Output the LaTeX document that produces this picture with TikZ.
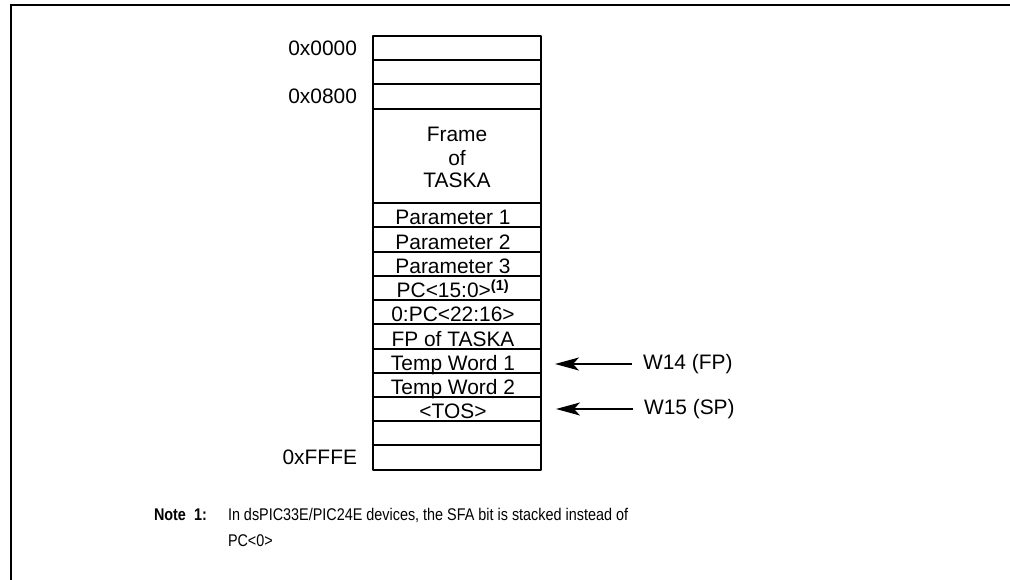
\documentclass[tikz,border=0pt]{standalone}
\usepackage{fontspec}
\setmainfont{Liberation Sans}
\newfontfamily\notefont[FakeStretch=0.85]{Liberation Sans}
\usepackage{tkz-euclide}
\usetikzlibrary{arrows.meta}

\begin{document}
\begin{tikzpicture}[x=1bp,y=-1bp,line width=2bp,
    every node/.style={inner sep=0pt,font=\fontsize{21}{25}\selectfont},
    cell/.style={anchor=base},
    addr/.style={anchor=east},
    ptr/.style={line width=1.4bp,-{Stealth[length=24bp,width=13bp,inset=6bp]}},
    note/.style={anchor=base west,font=\notefont\fontsize{17}{20}\selectfont}]
        \useasboundingbox (0,0) rectangle (1010,580);%

        \def\xl{373} \def\xr{541} \def\xm{453} \def\h{24.2}%

        % frame of the figure, runs off the page
        \draw (11,580) -- (11,5) -- (1010,5);%

        % the stack
        \tkzDefPoint(\xl,36){A} \tkzDefPoint(\xr,36){B}%
        \tkzDefPoint(\xr,469.5){C} \tkzDefPoint(\xl,469.5){D}%
        \tkzDrawPolygon[line width=2bp](A,B,C,D)%
        \foreach \y in {60.2, 84.4, 108.6, 203.3} { \draw (\xl,\y) -- (\xr,\y); }%
        \foreach \i in {1,...,10} { \draw (\xl,203.3+\i*\h) -- (\xr,203.3+\i*\h); }%

        \foreach \t/\yb [count=\k] in {Frame/142, of/166, TASKA/188} {%
          \node[cell] (fr\k) at (457,\yb) {\t}; }%
        \foreach \t [count=\i] in {Parameter 1, Parameter 2, Parameter 3,
            {PC<15:0>\textsuperscript{\bfseries(1)}}, 0:PC<22:16>, FP of TASKA,
            Temp Word 1, Temp Word 2, <TOS>} {%
          \node[cell] (row\i) at (\xm,203.3+\i*\h-2.5) {\t}; }%

        % addresses
        \foreach \t/\y [count=\k] in {0x0000/48, 0x0800/96.5, 0xFFFE/457.4} {%
          \node[addr] (adr\k) at (358,\y) {\t}; }%

        % pointers
        \node[anchor=west] (fp) at (642,364) {W14 (FP)};%
        \node[anchor=west] (sp) at (643,409) {W15 (SP)};%
        \coordinate (fptip) at (555,364); \coordinate (sptip) at (556,409);%
        \draw[ptr] ([xshift=-10bp]fp.west) -- (fptip);%
        \draw[ptr] ([xshift=-10bp]sp.west) -- (sptip);%

        % note
        \node[note,font=\notefont\bfseries\fontsize{17}{20}\selectfont] (notehd) at (153,520) {Note};%
        \node[note,font=\notefont\bfseries\fontsize{17}{20}\selectfont] (noteno) at (193,520) {1:};%
        \node[note] (note1) at (227,520) {In dsPIC33E/PIC24E devices, the SFA bit is stacked instead of};%
        \node[note] (note2) at (227,546.5) {PC<0>};%
\end{tikzpicture}
\end{document}
